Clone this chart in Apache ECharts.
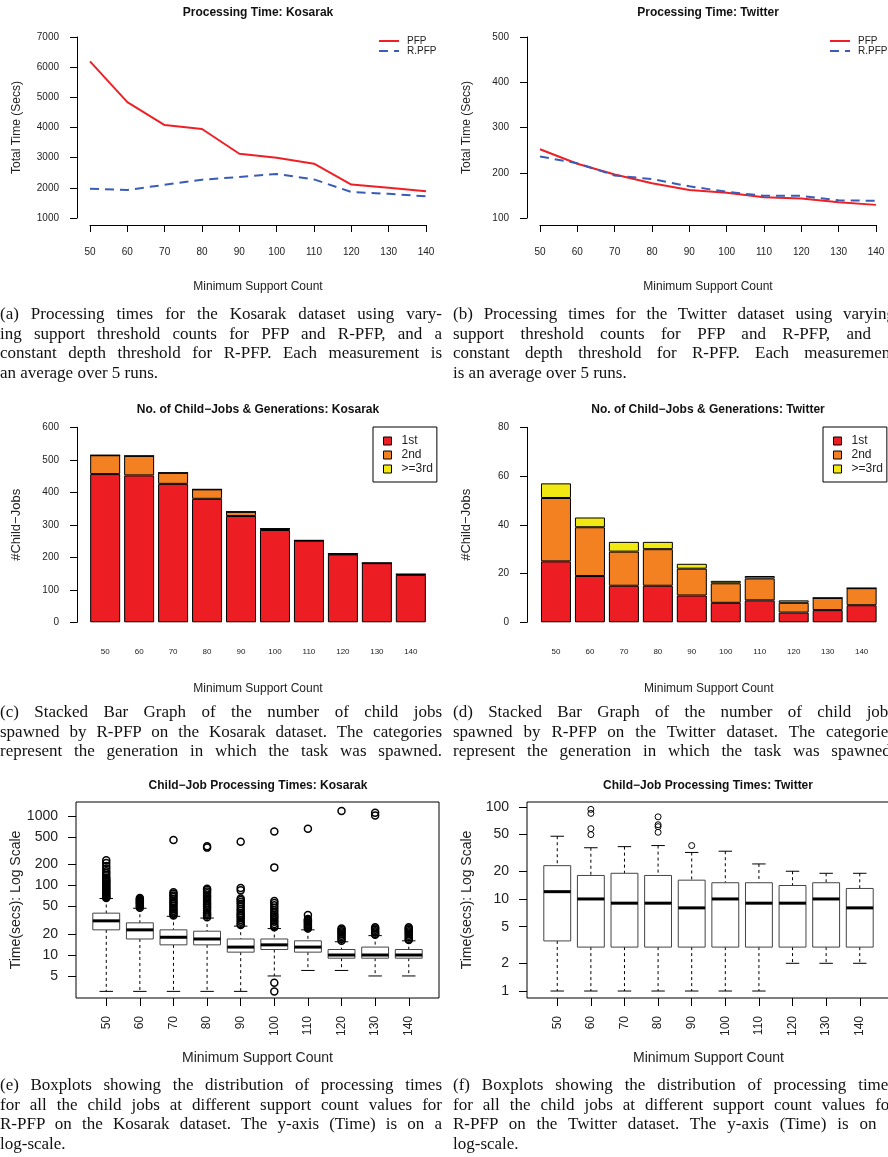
<!DOCTYPE html>
<html>
<head>
<meta charset="utf-8">
<script src="https://cdn.jsdelivr.net/npm/echarts@6/dist/echarts.min.js"></script>
<style>
  html, body { margin: 0; padding: 0; background: #fff; overflow: hidden; width: 888px; height: 1157px; }
  #chart { position: absolute; left: 0; top: 0; width: 888px; height: 1157px; }
  .cap { position: absolute; width: 442px; font-family: "Liberation Serif", "Times New Roman", serif; font-size: 17px; color: #111; }
  .cap div { height: 19.5px; line-height: 19.5px; white-space: nowrap; }
</style>
</head>
<body>
<div id="chart"></div>

<div class="cap" style="left:0;top:304px">
  <div>(a) Processing times for the Kosarak dataset using vary-</div>
  <div>ing support threshold counts for PFP and R-PFP, and a</div>
  <div>constant depth threshold for R-PFP. Each measurement is</div>
  <div class="last">an average over 5 runs.</div>
</div>
<div class="cap" style="left:453px;top:304px">
  <div>(b) Processing times for the Twitter dataset using varying</div>
  <div>support threshold counts for PFP and R-PFP, and a</div>
  <div>constant depth threshold for R-PFP. Each measurement</div>
  <div class="last">is an average over 5 runs.</div>
</div>
<div class="cap" style="left:0;top:702px">
  <div>(c) Stacked Bar Graph of the number of child jobs</div>
  <div>spawned by R-PFP on the Kosarak dataset. The categories</div>
  <div>represent the generation in which the task was spawned.</div>
</div>
<div class="cap" style="left:453px;top:702px">
  <div>(d) Stacked Bar Graph of the number of child jobs</div>
  <div>spawned by R-PFP on the Twitter dataset. The categories</div>
  <div>represent the generation in which the task was spawned.</div>
</div>
<div class="cap" style="left:0;top:1075px">
  <div>(e) Boxplots showing the distribution of processing times</div>
  <div>for all the child jobs at different support count values for</div>
  <div>R-PFP on the Kosarak dataset. The y-axis (Time) is on a</div>
  <div class="last">log-scale.</div>
</div>
<div class="cap" style="left:453px;top:1075px">
  <div>(f) Boxplots showing the distribution of processing times</div>
  <div>for all the child jobs at different support count values for</div>
  <div>R-PFP on the Twitter dataset. The y-axis (Time) is on a</div>
  <div class="last">log-scale.</div>
</div>

<script>
// minimum support counts (x axis of every panel)
const supportCounts = [50, 60, 70, 80, 90, 100, 110, 120, 130, 140];
const supportLabels = ['50', '60', '70', '80', '90', '100', '110', '120', '130', '140'];

// (a) / (b) total processing time, secs
const kosarakPFP  = [6190, 4840, 4080, 3950, 3130, 3000, 2800, 2110, 2000, 1890];
const kosarakRPFP = [1970, 1930, 2100, 2270, 2360, 2460, 2280, 1860, 1800, 1720];
const twitterPFP  = [252, 220, 196, 177, 162, 156, 146, 143, 135, 129];
const twitterRPFP = [236, 221, 194, 186, 170, 158, 149, 149, 139, 138];

// (c) / (d) child jobs per generation
const generations = ['1st', '2nd', '>=3rd'];
const kosarakGen1 = [456, 452, 426, 380, 327, 284, 251, 209, 182, 146];
const kosarakGen2 = [58, 60, 34, 29, 13, 4, 1, 2, 0, 2];
const kosarakGen3 = [0, 0, 0, 0, 0, 0, 0, 0, 0, 0];
const twitterGen1 = [25, 19, 15, 15, 11, 8, 9, 4, 5, 7];
const twitterGen2 = [26, 20, 14, 15, 11, 8, 9, 4, 5, 7];
const twitterGen3 = [6, 4, 4, 3, 2, 1, 1, 1, 0, 0];

// (e) / (f) child job times: [lower whisker, Q1, median, Q3, upper whisker]
const kosarakBoxes = [
  [3, 23, 31, 40, 65], [3, 17, 23, 29, 47], [3, 14, 18, 23, 36], [3, 14, 17, 22, 34],
  [3, 11, 13, 17, 26], [5, 12, 14, 17, 24], [6, 11, 13, 16, 23], [6, 9, 10, 12, 15.5],
  [5, 9, 10, 13, 19], [5, 9, 10, 12, 16]
];
const kosarakOutliers = [
  [66, 68, 70, 72, 75, 78, 80, 83, 86, 90, 93, 97, 100, 104, 108, 112, 116, 120, 125, 130, 140, 150, 160, 175, 190, 210, 230],
  [48, 50, 52, 54, 56, 58, 60, 62, 64, 66],
  [37, 39, 41, 43, 45, 48, 51, 54, 57, 60, 64, 68, 72, 76, 80, 450],
  [35, 37, 39, 41, 44, 47, 50, 53, 56, 60, 64, 68, 72, 77, 82, 87, 90, 350, 365],
  [27, 28, 30, 32, 34, 36, 38, 40, 43, 46, 50, 54, 58, 62, 65, 85, 92, 425],
  [25, 26, 28, 30, 32, 34, 36, 38, 41, 44, 48, 52, 56, 60, 182, 595, 4, 3],
  [24, 25, 26, 27, 28, 29, 30, 31, 32, 33, 37.5, 655],
  [16, 17, 18, 19, 20, 21, 22, 23, 24, 1180],
  [19.5, 20, 21, 22, 23, 24, 25, 1010, 1110],
  [16.5, 17, 18, 19, 20, 21, 22, 23, 24, 25]
];
const twitterBoxes = [
  [1, 3.5, 12, 23, 48], [1, 3, 10, 18, 36], [1, 3, 9, 19, 37], [1, 3, 9, 18, 38],
  [1, 3, 8, 16, 32], [1, 3, 10, 15, 33], [1, 3, 9, 15, 24], [2, 3, 9, 14, 20],
  [2, 3, 10, 15, 19], [2, 3, 8, 13, 19]
];
const twitterOutliers = [
  [], [94, 85, 58, 50], [], [78, 64, 61, 53], [38], [], [], [], [], []
];

const kosarakTicks = [5, 10, 20, 50, 100, 200, 500, 1000];
const twitterTicks = [1, 2, 5, 10, 20, 50, 100];
const boxPositions = [1, 2, 3, 4, 5, 6, 7, 8, 9, 10];

const FONT = '"Liberation Sans", Arial, Helvetica, sans-serif';
const INK = '#222';
const RED = '#EE2025', BLUE = '#3A5BB8';
const GEN_COLORS = ['#EC1E24', '#F48121', '#F2E912'];

// spread each caption line over the column width (LaTeX-style justification)
document.querySelectorAll('.cap div').forEach(d => {
  if (d.classList.contains('last')) return;
  d.style.display = 'inline-block';
  const w = d.getBoundingClientRect().width;
  d.style.display = 'block';
  const gaps = (d.textContent.match(/ /g) || []).length;
  if (gaps) d.style.wordSpacing = ((442 - w) / gaps) + 'px';
});

const chart = echarts.init(document.getElementById('chart'));

function pairs(xs, ys) { return xs.map((x, i) => [x, ys[i]]); }
const plain = v => String(Math.round(v));

function lineX(gi) {
  return {
    type: 'value', gridIndex: gi, min: 50, max: 140, interval: 10, offset: 7,
    axisLine: { show: true, lineStyle: { color: '#000', width: 1 } },
    axisTick: { show: true, length: 7, lineStyle: { color: '#000' } },
    axisLabel: { fontSize: 10, color: INK, margin: 22, showMinLabel: true, showMaxLabel: true, formatter: plain },
    splitLine: { show: false },
    name: 'Minimum Support Count', nameLocation: 'middle', nameGap: 56, nameMoveOverlap: false,
    nameTextStyle: { fontSize: 12, color: INK }
  };
}
function valueY(gi, min, max, step, offset, name, nameSize) {
  return {
    type: 'value', gridIndex: gi, min: min, max: max, interval: step, offset: offset,
    axisLine: { show: true, lineStyle: { color: '#000', width: 1 } },
    axisTick: { show: true, length: 7, lineStyle: { color: '#000' } },
    axisLabel: { fontSize: 10, color: INK, margin: 18, showMinLabel: true, showMaxLabel: true, formatter: plain },
    splitLine: { show: false },
    name: name, nameLocation: 'middle', nameGap: 54, nameMoveOverlap: false,
    nameTextStyle: { fontSize: nameSize, color: INK }
  };
}
function barX(gi) {
  return {
    type: 'category', gridIndex: gi, data: supportLabels,
    axisLine: { show: false }, axisTick: { show: false },
    axisLabel: { fontSize: 8, color: INK, margin: 25, interval: 0 },
    name: 'Minimum Support Count', nameLocation: 'middle', nameGap: 60, nameMoveOverlap: false,
    nameTextStyle: { fontSize: 12, color: INK }
  };
}
function boxX(gi) {
  return {
    type: 'value', gridIndex: gi, min: 0.1, max: 10.9,
    axisLine: { show: false },
    axisTick: { show: true, length: 8, customValues: boxPositions, lineStyle: { color: '#000' } },
    axisLabel: { fontSize: 12, color: INK, margin: 18, rotate: 90, customValues: boxPositions,
      formatter: v => supportLabels[Math.round(v) - 1] },
    splitLine: { show: false },
    name: 'Minimum Support Count', nameLocation: 'middle', nameGap: 53, nameMoveOverlap: false,
    nameTextStyle: { fontSize: 14, color: INK }
  };
}
function logY(gi, min, max, ticks) {
  return {
    type: 'log', logBase: 10, gridIndex: gi, min: min, max: max,
    axisLine: { show: false },
    axisTick: { show: true, length: 8, customValues: ticks, lineStyle: { color: '#000' } },
    axisLabel: { fontSize: 14, color: INK, margin: 18, customValues: ticks, formatter: plain },
    splitLine: { show: false },
    name: 'Time(secs): Log Scale', nameLocation: 'middle', nameGap: 53, nameMoveOverlap: false,
    nameTextStyle: { fontSize: 14, color: INK }
  };
}

function lineSeries(name, gi, data, color, dashed) {
  return {
    type: 'line', name: name, xAxisIndex: gi, yAxisIndex: gi,
    data: pairs(supportCounts, data), symbol: 'none',
    lineStyle: { color: color, width: 2, type: dashed ? [9, 6] : 'solid' },
    itemStyle: { color: color }
  };
}
function barSeries(name, gi, stack, data, color) {
  return {
    type: 'bar', name: name, xAxisIndex: gi, yAxisIndex: gi, stack: stack, data: data,
    barWidth: 30,
    itemStyle: { color: color, borderColor: '#000', borderWidth: 1 }
  };
}

function renderBox(params, api) {
  const x = api.value(0);
  const lo = api.coord([x, api.value(1)]);
  const q1 = api.coord([x, api.value(2)]);
  const md = api.coord([x, api.value(3)]);
  const q3 = api.coord([x, api.value(4)]);
  const hi = api.coord([x, api.value(5)]);
  const half = api.coord([x + 0.4, api.value(3)])[0] - md[0];
  const cap = half / 2;
  const cx = md[0];
  const dash = { stroke: '#000', lineWidth: 1, lineDash: [3, 3] };
  const solid = { stroke: '#000', lineWidth: 1 };
  return {
    type: 'group',
    children: [
      { type: 'line', shape: { x1: cx, y1: hi[1], x2: cx, y2: q3[1] }, style: dash },
      { type: 'line', shape: { x1: cx, y1: q1[1], x2: cx, y2: lo[1] }, style: dash },
      { type: 'line', shape: { x1: cx - cap, y1: hi[1], x2: cx + cap, y2: hi[1] }, style: solid },
      { type: 'line', shape: { x1: cx - cap, y1: lo[1], x2: cx + cap, y2: lo[1] }, style: solid },
      { type: 'rect', shape: { x: cx - half, y: q3[1], width: half * 2, height: q1[1] - q3[1] },
        style: { fill: '#fff', stroke: '#444', lineWidth: 1 } },
      { type: 'line', shape: { x1: cx - half, y1: md[1], x2: cx + half, y2: md[1] },
        style: { stroke: '#000', lineWidth: 3 } }
    ]
  };
}
function boxSeries(gi, boxes) {
  return {
    type: 'custom', xAxisIndex: gi, yAxisIndex: gi, renderItem: renderBox, clip: false,
    data: boxes.map((b, i) => [boxPositions[i]].concat(b)),
    encode: { x: 0, y: [1, 2, 3, 4, 5] }
  };
}
function outlierSeries(gi, outliers, size, lw) {
  const data = [];
  outliers.forEach((vals, i) => vals.forEach(v => data.push([boxPositions[i], v])));
  return {
    type: 'scatter', xAxisIndex: gi, yAxisIndex: gi, data: data,
    symbol: 'circle', symbolSize: size,
    itemStyle: { color: 'rgba(0,0,0,0)', borderColor: '#000', borderWidth: lw, opacity: 1 }
  };
}

function title(text, x, y) {
  return {
    type: 'text', x: x, y: y, silent: true,
    style: { text: text, font: 'bold 12px ' + FONT, fill: '#111', align: 'center', verticalAlign: 'middle' }
  };
}

const lineLegend = (left) => ({
  data: ['PFP', 'R.PFP'], orient: 'vertical', left: left, top: 36, padding: 0,
  itemWidth: 20, itemHeight: 12, itemGap: 0, selectedMode: false,
  itemStyle: { color: 'rgba(0,0,0,0)', borderWidth: 0, opacity: 0 },
  textStyle: { fontSize: 10, color: INK, padding: [0, 0, 0, 3] }
});
const genLegend = (left) => ({
  data: generations, orient: 'vertical', left: left, top: 427, padding: [7, 4, 6, 10],
  borderColor: '#000', borderWidth: 1, icon: 'rect',
  itemWidth: 8, itemHeight: 8, itemGap: 0, selectedMode: false,
  itemStyle: { borderColor: '#000', borderWidth: 1 },
  textStyle: { fontSize: 12, color: INK, lineHeight: 14, padding: [0, 0, 0, 5] }
});

const option = {
  animation: false,
  textStyle: { fontFamily: FONT },
  grid: [
    { left: 90, top: 37, width: 336, height: 181, outerBoundsMode: 'none', containLabel: false },
    { left: 540, top: 37, width: 336, height: 181, outerBoundsMode: 'none', containLabel: false },
    { left: 88.2, top: 427.3, width: 339.6, height: 195, outerBoundsMode: 'none', containLabel: false },
    { left: 539, top: 427.3, width: 339.6, height: 195, outerBoundsMode: 'none', containLabel: false },
    { left: 76, top: 802, width: 363, height: 196, show: true, borderColor: '#000', borderWidth: 1,
      backgroundColor: 'transparent', outerBoundsMode: 'none', containLabel: false },
    { left: 527, top: 802, width: 363, height: 196, show: true, borderColor: '#000', borderWidth: 1,
      backgroundColor: 'transparent', outerBoundsMode: 'none', containLabel: false }
  ],
  xAxis: [lineX(0), lineX(1), barX(2), barX(3), boxX(4), boxX(5)],
  yAxis: [
    valueY(0, 1000, 7000, 1000, 13, 'Total Time (Secs)', 12),
    valueY(1, 100, 500, 100, 13, 'Total Time (Secs)', 12),
    valueY(2, 0, 600, 100, 11.2, '#Child\u2212Jobs', 13),
    valueY(3, 0, 80, 20, 12, '#Child\u2212Jobs', 13),
    logY(4, 2.41, 1585, kosarakTicks),
    logY(5, 0.84, 113, twitterTicks)
  ],
  legend: [lineLegend(378), lineLegend(829), genLegend(373), genLegend(823)],
  graphic: [
    title('Processing Time: Kosarak', 258, 13),
    title('Processing Time: Twitter', 708, 13),
    title('No. of Child\u2212Jobs & Generations: Kosarak', 258, 410),
    title('No. of Child\u2212Jobs & Generations: Twitter', 708, 410),
    title('Child\u2212Job Processing Times: Kosarak', 258, 786),
    title('Child\u2212Job Processing Times: Twitter', 708, 786)
  ],
  series: [
    lineSeries('PFP', 0, kosarakPFP, RED, false),
    lineSeries('R.PFP', 0, kosarakRPFP, BLUE, true),
    lineSeries('PFP', 1, twitterPFP, RED, false),
    lineSeries('R.PFP', 1, twitterRPFP, BLUE, true),
    barSeries('1st', 2, 'k', kosarakGen1, GEN_COLORS[0]),
    barSeries('2nd', 2, 'k', kosarakGen2, GEN_COLORS[1]),
    barSeries('>=3rd', 2, 'k', kosarakGen3, GEN_COLORS[2]),
    barSeries('1st', 3, 't', twitterGen1, GEN_COLORS[0]),
    barSeries('2nd', 3, 't', twitterGen2, GEN_COLORS[1]),
    barSeries('>=3rd', 3, 't', twitterGen3, GEN_COLORS[2]),
    boxSeries(4, kosarakBoxes),
    outlierSeries(4, kosarakOutliers, 7, 1.5),
    boxSeries(5, twitterBoxes),
    outlierSeries(5, twitterOutliers, 6, 1)
  ]
};

chart.setOption(option);
</script>
</body>
</html>
